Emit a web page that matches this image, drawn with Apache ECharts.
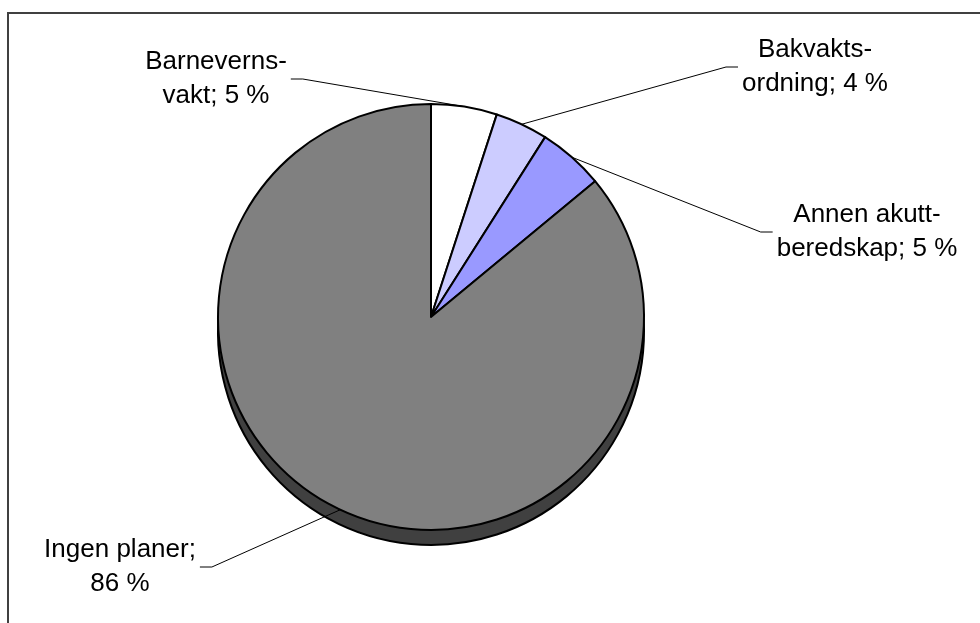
<!DOCTYPE html>
<html>
<head>
<meta charset="utf-8">
<style>
  html, body { margin: 0; padding: 0; background: #fff; }
  #chart { width: 980px; height: 623px; }
</style>
<script src="https://cdn.jsdelivr.net/npm/echarts@6/dist/echarts.min.js"></script>
</head>
<body>
<div id="chart"></div>
<script>
// ---- data ----
var categories = ['Barneverns-\nvakt', 'Bakvakts-\nordning', 'Annen akutt-\nberedskap', 'Ingen planer'];
var values = [5, 4, 5, 86];
var colors = ['#ffffff', '#ccccff', '#9999ff', '#808080'];

// ---- layout (label centers, px) ----
var labelPos = [[216, 79], [815, 67], [867, 232], [120, 567]];

var chart = echarts.init(document.getElementById('chart'), null, { renderer: 'canvas' });

var topData = categories.map(function (c, i) {
  return { name: c, value: values[i], itemStyle: { color: colors[i] } };
});
var sideData = categories.map(function (c, i) {
  return { name: c, value: values[i] };
});

var option = {
  animation: false,
  backgroundColor: '#ffffff',
  graphic: [{
    type: 'rect',
    shape: { x: 8, y: 13, width: 1200, height: 900 },
    style: { fill: 'none', stroke: '#404040', lineWidth: 2 },
    silent: true,
    z: 0
  }],
  series: [
    {
      type: 'pie',
      name: 'side',
      center: [431, 332],
      radius: 213,
      startAngle: 90,
      clockwise: true,
      silent: true,
      label: { show: false },
      labelLine: { show: false },
      itemStyle: { color: '#404040', borderColor: '#000', borderWidth: 2 },
      emphasis: { disabled: true },
      data: sideData,
      z: 1
    },
    {
      type: 'pie',
      name: 'top',
      center: [431, 317],
      radius: 213,
      startAngle: 90,
      clockwise: true,
      silent: true,
      itemStyle: { borderColor: '#000', borderWidth: 2 },
      emphasis: { disabled: true },
      label: {
        show: true,
        position: 'outside',
        color: '#000',
        fontFamily: 'Liberation Sans, Arial, sans-serif',
        fontSize: 26,
        lineHeight: 34,
        align: 'center',
        formatter: function (p) {
          var n = p.name;
          if (n.indexOf('\n') >= 0) return n + '; ' + p.value + ' %';
          return n + ';\n' + p.value + ' %';
        }
      },
      labelLine: {
        show: true,
        length: 20,
        length2: 12,
        lineStyle: { color: '#000', width: 1 }
      },
      labelLayout: function (params) {
        var i = params.dataIndex;
        var pos = labelPos[i];
        var w = params.labelRect.width;
        var onLeft = pos[0] < 431;
        var edge = onLeft ? pos[0] + w / 2 + 4 : pos[0] - w / 2 - 4;
        var elbow = onLeft ? edge + 12 : edge - 12;
        var pts = params.labelLinePoints;
        var p0 = pts ? pts[0] : [431, 317];
        return {
          x: pos[0],
          y: pos[1],
          align: 'center',
          verticalAlign: 'middle',
          labelLinePoints: [p0, [elbow, pos[1]], [edge, pos[1]]]
        };
      },
      data: topData,
      z: 2
    }
  ]
};
chart.setOption(option);
</script>
</body>
</html>
